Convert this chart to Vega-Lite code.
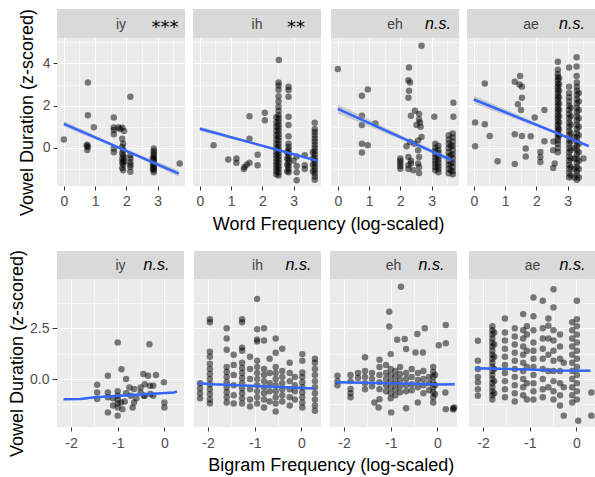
{
"$schema": "https://vega.github.io/schema/vega-lite/v6.json",
"padding": {"left": 8, "top": 8, "right": 0, "bottom": 0},
"background": "white",
"config": {
  "font": "Liberation Sans",
  "view": {"fill": "#EBEBEB", "stroke": null},
  "axis": {"labelFont": "Liberation Sans", "labelFontSize": 14, "labelColor": "#4d4d4d", "tickColor": "#333333", "tickSize": 4, "domain": false, "gridColor": "white", "labelOverlap": false, "labelFlush": false, "titleFont": "Liberation Sans", "titleFontSize": 18, "titleFontWeight": "normal", "titleColor": "black", "labelPadding": 3},
  "title": {"font": "Liberation Sans", "fontSize": 18, "fontWeight": "normal", "color": "black"}
},
"datasets": {
  "strips": [
    {"r": "word", "v": "iy", "sig": "***"}, {"r": "word", "v": "ih", "sig": "**"}, {"r": "word", "v": "eh", "sig": "n.s."}, {"r": "word", "v": "ae", "sig": "n.s."},
    {"r": "bigram", "v": "iy", "sig": "n.s."}, {"r": "bigram", "v": "ih", "sig": "n.s."}, {"r": "bigram", "v": "eh", "sig": "n.s."}, {"r": "bigram", "v": "ae", "sig": "n.s."}
  ],
  "wordfit": [
    {"v":"iy","x":0,"y":1.14,"lo":1.0,"hi":1.28},{"v":"iy","x":1.85,"y":-0.04,"lo":-0.1,"hi":0.02},{"v":"iy","x":3.68,"y":-1.21,"lo":-1.36,"hi":-1.06},
    {"v":"ih","x":0,"y":0.91,"lo":0.8,"hi":1.02},{"v":"ih","x":2.5,"y":-0.1,"lo":-0.13,"hi":-0.07},{"v":"ih","x":3.78,"y":-0.61,"lo":-0.67,"hi":-0.55},
    {"v":"eh","x":0,"y":1.85,"lo":1.63,"hi":2.07},{"v":"eh","x":2.3,"y":0.31,"lo":0.22,"hi":0.4},{"v":"eh","x":3.64,"y":-0.58,"lo":-0.7,"hi":-0.46},
    {"v":"ae","x":0,"y":2.29,"lo":2.1,"hi":2.48},{"v":"ae","x":2.7,"y":0.68,"lo":0.62,"hi":0.74},{"v":"ae","x":3.68,"y":0.09,"lo":0.02,"hi":0.16}
  ],
  "bigramfit": [
    {"v":"iy","x":-2.16,"y":-0.99,"lo":-1.04,"hi":-0.94},{"v":"iy","x":-1.8,"y":-0.98,"lo":-1.02,"hi":-0.94},{"v":"iy","x":-1.49,"y":-0.9,"lo":-0.94,"hi":-0.86},{"v":"iy","x":0.2,"y":-0.66,"lo":-0.71,"hi":-0.61},{"v":"iy","x":0.27,"y":-0.61,"lo":-0.66,"hi":-0.56},
    {"v":"ih","x":-2.21,"y":-0.2,"lo":-0.25,"hi":-0.15},{"v":"ih","x":-1.9,"y":-0.25,"lo":-0.29,"hi":-0.21},{"v":"ih","x":0.27,"y":-0.46,"lo":-0.51,"hi":-0.41},
    {"v":"eh","x":-2.18,"y":-0.16,"lo":-0.21,"hi":-0.11},{"v":"eh","x":-1.0,"y":-0.2,"lo":-0.23,"hi":-0.17},{"v":"eh","x":0.1,"y":-0.27,"lo":-0.31,"hi":-0.23},{"v":"eh","x":0.37,"y":-0.25,"lo":-0.3,"hi":-0.2},
    {"v":"ae","x":-2.16,"y":0.53,"lo":0.47,"hi":0.59},{"v":"ae","x":-1.0,"y":0.47,"lo":0.43,"hi":0.51},{"v":"ae","x":-0.5,"y":0.42,"lo":0.38,"hi":0.46},{"v":"ae","x":0.3,"y":0.41,"lo":0.35,"hi":0.47}
  ],
  "word": [
    {"v":"iy","x":0,"y":0.4},{"v":"iy","x":0.77,"y":3.1},{"v":"iy","x":0.77,"y":1.55},{"v":"iy","x":0.75,"y":0.15},{"v":"iy","x":0.77,"y":0.05},{"v":"iy","x":0.75,"y":-0.1},{"v":"iy","x":0.73,"y":0.1},{"v":"iy","x":0.96,"y":0.98},{"v":"iy","x":2.13,"y":2.42},
    {"v":"iy","x":1.6,"y":1.44},{"v":"iy","x":1.6,"y":0.97},{"v":"iy","x":1.6,"y":0.85},{"v":"iy","x":1.6,"y":0.65},{"v":"iy","x":1.6,"y":-0.03},{"v":"iy","x":1.6,"y":-0.2},
    {"v":"iy","x":1.75,"y":0.97},{"v":"iy","x":1.87,"y":0.95},{"v":"iy","x":1.93,"y":0.8},{"v":"iy","x":1.8,"y":0.9},
    {"v":"iy","x":1.87,"y":0.44},{"v":"iy","x":1.9,"y":0.2},{"v":"iy","x":1.87,"y":0.05},{"v":"iy","x":1.9,"y":-0.1},{"v":"iy","x":1.87,"y":-0.25},{"v":"iy","x":1.9,"y":-0.35},{"v":"iy","x":1.87,"y":-0.5},{"v":"iy","x":1.9,"y":-0.6},{"v":"iy","x":1.87,"y":-0.7},{"v":"iy","x":1.9,"y":-0.8},{"v":"iy","x":1.87,"y":-0.95},{"v":"iy","x":1.9,"y":-1.05},{"v":"iy","x":1.93,"y":-0.45},{"v":"iy","x":1.93,"y":-0.65},
    {"v":"iy","x":2.13,"y":-0.35},{"v":"iy","x":2.13,"y":-0.5},{"v":"iy","x":2.13,"y":-0.66},{"v":"iy","x":2.13,"y":-0.8},{"v":"iy","x":2.13,"y":-0.9},{"v":"iy","x":2.13,"y":-1.13},
    {"v":"iy","x":2.88,"y":-0.03},{"v":"iy","x":2.88,"y":-0.15},{"v":"iy","x":2.88,"y":-0.25},{"v":"iy","x":2.88,"y":-0.35},{"v":"iy","x":2.88,"y":-0.45},{"v":"iy","x":2.88,"y":-0.55},{"v":"iy","x":2.88,"y":-0.62},{"v":"iy","x":2.88,"y":-0.7},{"v":"iy","x":2.88,"y":-0.8},{"v":"iy","x":2.88,"y":-0.88},{"v":"iy","x":2.88,"y":-0.95},{"v":"iy","x":2.88,"y":-1.05},{"v":"iy","x":2.88,"y":-1.15},{"v":"iy","x":2.85,"y":-0.5},{"v":"iy","x":2.85,"y":-0.75},{"v":"iy","x":2.85,"y":-1.0},
    {"v":"iy","x":3.71,"y":-0.74},

    {"v":"ih","x":0.44,"y":0.13},{"v":"ih","x":0.91,"y":-0.55},{"v":"ih","x":1.17,"y":-0.5},{"v":"ih","x":1.17,"y":-0.7},{"v":"ih","x":1.41,"y":-1.0},{"v":"ih","x":1.43,"y":-0.9},{"v":"ih","x":1.5,"y":-0.8},{"v":"ih","x":1.59,"y":-0.7},{"v":"ih","x":1.59,"y":1.5},{"v":"ih","x":1.59,"y":0.44},{"v":"ih","x":1.85,"y":-0.32},{"v":"ih","x":1.85,"y":-0.82},{"v":"ih","x":2.08,"y":1.66},{"v":"ih","x":2.08,"y":1.31},{"v":"ih","x":2.53,"y":4.16},
    {"v":"ih","x":2.52,"y":3.1},{"v":"ih","x":2.52,"y":2.95},{"v":"ih","x":2.52,"y":2.75},{"v":"ih","x":2.52,"y":2.45},{"v":"ih","x":2.52,"y":2.2},{"v":"ih","x":2.52,"y":1.95},{"v":"ih","x":2.52,"y":1.75},{"v":"ih","x":2.52,"y":1.55},{"v":"ih","x":2.52,"y":1.4},{"v":"ih","x":2.52,"y":1.25},{"v":"ih","x":2.52,"y":1.1},{"v":"ih","x":2.52,"y":0.95},{"v":"ih","x":2.52,"y":0.8},{"v":"ih","x":2.52,"y":0.65},{"v":"ih","x":2.52,"y":0.5},{"v":"ih","x":2.52,"y":0.35},{"v":"ih","x":2.52,"y":0.2},{"v":"ih","x":2.52,"y":0.05},{"v":"ih","x":2.52,"y":-0.1},{"v":"ih","x":2.52,"y":-0.25},{"v":"ih","x":2.52,"y":-0.4},{"v":"ih","x":2.52,"y":-0.55},{"v":"ih","x":2.52,"y":-0.7},{"v":"ih","x":2.52,"y":-0.85},{"v":"ih","x":2.52,"y":-1.0},{"v":"ih","x":2.52,"y":-1.15},{"v":"ih","x":2.52,"y":-1.3},
    {"v":"ih","x":2.45,"y":1.45},{"v":"ih","x":2.45,"y":1.2},{"v":"ih","x":2.45,"y":1.0},{"v":"ih","x":2.45,"y":0.8},{"v":"ih","x":2.45,"y":0.6},{"v":"ih","x":2.45,"y":0.4},{"v":"ih","x":2.45,"y":0.2},{"v":"ih","x":2.45,"y":0.0},{"v":"ih","x":2.45,"y":-0.2},{"v":"ih","x":2.45,"y":-0.35},{"v":"ih","x":2.45,"y":-0.5},{"v":"ih","x":2.45,"y":-0.65},{"v":"ih","x":2.45,"y":-0.8},{"v":"ih","x":2.45,"y":-0.95},{"v":"ih","x":2.45,"y":-1.1},{"v":"ih","x":2.45,"y":-1.25},
    {"v":"ih","x":2.84,"y":2.9},{"v":"ih","x":2.84,"y":2.74},{"v":"ih","x":2.84,"y":2.42},{"v":"ih","x":2.84,"y":1.47},{"v":"ih","x":2.84,"y":1.08},{"v":"ih","x":2.84,"y":0.55},{"v":"ih","x":2.84,"y":0.2},{"v":"ih","x":2.84,"y":0.05},{"v":"ih","x":2.84,"y":-0.1},{"v":"ih","x":2.84,"y":-0.25},{"v":"ih","x":2.84,"y":-0.4},{"v":"ih","x":2.84,"y":-0.55},{"v":"ih","x":2.84,"y":-0.7},{"v":"ih","x":2.84,"y":-0.85},{"v":"ih","x":2.84,"y":-1.0},{"v":"ih","x":2.84,"y":-1.15},
    {"v":"ih","x":2.8,"y":-0.2},{"v":"ih","x":2.8,"y":-0.5},{"v":"ih","x":2.8,"y":-0.8},{"v":"ih","x":2.8,"y":-1.1},
    {"v":"ih","x":3.1,"y":-0.4},{"v":"ih","x":3.1,"y":-0.85},{"v":"ih","x":3.1,"y":-1.15},{"v":"ih","x":3.1,"y":-1.53},{"v":"ih","x":3.0,"y":-0.6},
    {"v":"ih","x":3.36,"y":-0.35},{"v":"ih","x":3.36,"y":-0.82},{"v":"ih","x":3.36,"y":-1.0},
    {"v":"ih","x":3.68,"y":1.19},{"v":"ih","x":3.68,"y":0.9},{"v":"ih","x":3.68,"y":0.75},{"v":"ih","x":3.68,"y":0.6},{"v":"ih","x":3.68,"y":0.45},{"v":"ih","x":3.68,"y":0.3},{"v":"ih","x":3.68,"y":0.15},{"v":"ih","x":3.68,"y":0.0},{"v":"ih","x":3.68,"y":-0.15},{"v":"ih","x":3.68,"y":-0.3},{"v":"ih","x":3.68,"y":-0.45},{"v":"ih","x":3.68,"y":-0.6},{"v":"ih","x":3.68,"y":-0.75},{"v":"ih","x":3.68,"y":-0.9},{"v":"ih","x":3.68,"y":-1.05},{"v":"ih","x":3.68,"y":-1.2},{"v":"ih","x":3.68,"y":-1.35},{"v":"ih","x":3.68,"y":-1.5},
    {"v":"ih","x":3.62,"y":-0.2},{"v":"ih","x":3.62,"y":-0.5},{"v":"ih","x":3.62,"y":-0.8},{"v":"ih","x":3.62,"y":-1.1},

    {"v":"eh","x":2.68,"y":4.83},{"v":"eh","x":0,"y":3.73},{"v":"eh","x":0.77,"y":2.47},{"v":"eh","x":0.96,"y":2.77},{"v":"eh","x":0.77,"y":1.52},{"v":"eh","x":0.77,"y":1.08},{"v":"eh","x":1.2,"y":1.16},{"v":"eh","x":0.77,"y":0.2},{"v":"eh","x":0.96,"y":0.13},{"v":"eh","x":0.77,"y":-0.22},
    {"v":"eh","x":2.28,"y":3.8},{"v":"eh","x":2.26,"y":3.2},{"v":"eh","x":2.31,"y":3.1},{"v":"eh","x":2.28,"y":2.7},{"v":"eh","x":2.26,"y":2.37},
    {"v":"eh","x":2.47,"y":1.76},{"v":"eh","x":2.34,"y":1.52},{"v":"eh","x":2.6,"y":1.6},{"v":"eh","x":2.63,"y":1.2},{"v":"eh","x":2.65,"y":1.0},{"v":"eh","x":2.52,"y":1.08},{"v":"eh","x":2.68,"y":0.52},{"v":"eh","x":2.6,"y":1.35},
    {"v":"eh","x":2.2,"y":0.08},{"v":"eh","x":2.31,"y":0.28},{"v":"eh","x":2.45,"y":0.2},
    {"v":"eh","x":2.0,"y":-0.5},{"v":"eh","x":2.0,"y":-0.74},{"v":"eh","x":2.0,"y":-0.98},{"v":"eh","x":2.0,"y":-0.62},{"v":"eh","x":2.0,"y":-0.86},
    {"v":"eh","x":2.26,"y":-0.43},{"v":"eh","x":2.34,"y":-0.74},{"v":"eh","x":2.26,"y":-0.82},{"v":"eh","x":2.42,"y":-1.06},{"v":"eh","x":2.34,"y":-0.6},{"v":"eh","x":2.26,"y":-1.0},
    {"v":"eh","x":2.57,"y":-0.11},{"v":"eh","x":2.6,"y":-0.43},{"v":"eh","x":2.57,"y":-0.74},{"v":"eh","x":2.6,"y":-1.19},{"v":"eh","x":2.6,"y":-0.9},{"v":"eh","x":2.57,"y":0.35},
    {"v":"eh","x":3.09,"y":1.47},{"v":"eh","x":3.7,"y":2.14},{"v":"eh","x":3.7,"y":1.47},
    {"v":"eh","x":3.12,"y":0.2},{"v":"eh","x":3.12,"y":0.0},{"v":"eh","x":3.12,"y":-0.15},{"v":"eh","x":3.12,"y":-0.3},{"v":"eh","x":3.12,"y":-0.45},{"v":"eh","x":3.12,"y":-0.6},{"v":"eh","x":3.12,"y":-0.75},{"v":"eh","x":3.12,"y":-0.9},{"v":"eh","x":3.12,"y":-1.05},
    {"v":"eh","x":3.22,"y":0.1},{"v":"eh","x":3.22,"y":-0.1},{"v":"eh","x":3.22,"y":-0.25},{"v":"eh","x":3.22,"y":-0.4},{"v":"eh","x":3.22,"y":-0.55},{"v":"eh","x":3.22,"y":-0.7},{"v":"eh","x":3.22,"y":-0.85},{"v":"eh","x":3.22,"y":-1.0},{"v":"eh","x":3.22,"y":-1.15},
    {"v":"eh","x":3.55,"y":0.6},{"v":"eh","x":3.55,"y":0.4},{"v":"eh","x":3.55,"y":0.2},{"v":"eh","x":3.55,"y":0.0},{"v":"eh","x":3.55,"y":-0.2},{"v":"eh","x":3.55,"y":-0.4},{"v":"eh","x":3.55,"y":-0.6},{"v":"eh","x":3.55,"y":-0.8},{"v":"eh","x":3.55,"y":-1.0},{"v":"eh","x":3.55,"y":-1.2},
    {"v":"eh","x":3.68,"y":0.68},{"v":"eh","x":3.68,"y":0.5},{"v":"eh","x":3.68,"y":0.3},{"v":"eh","x":3.68,"y":0.1},{"v":"eh","x":3.68,"y":-0.1},{"v":"eh","x":3.68,"y":-0.3},{"v":"eh","x":3.68,"y":-0.5},{"v":"eh","x":3.68,"y":-0.7},{"v":"eh","x":3.68,"y":-0.9},{"v":"eh","x":3.68,"y":-1.1},{"v":"eh","x":3.68,"y":-1.25},
    {"v":"eh","x":3.62,"y":0.1},{"v":"eh","x":3.62,"y":-0.35},{"v":"eh","x":3.62,"y":-0.75},{"v":"eh","x":3.62,"y":-1.05},

    {"v":"ae","x":0.35,"y":3.05},{"v":"ae","x":0.04,"y":1.2},{"v":"ae","x":0.35,"y":1.12},{"v":"ae","x":0.51,"y":0.57},{"v":"ae","x":0.04,"y":0.08},{"v":"ae","x":0.76,"y":-0.63},
    {"v":"ae","x":1.31,"y":3.13},{"v":"ae","x":1.48,"y":3.4},{"v":"ae","x":1.46,"y":3.0},{"v":"ae","x":1.54,"y":2.9},{"v":"ae","x":1.54,"y":2.37},{"v":"ae","x":1.41,"y":2.07},{"v":"ae","x":1.51,"y":1.79},
    {"v":"ae","x":2.26,"y":1.79},{"v":"ae","x":1.95,"y":1.44},{"v":"ae","x":1.31,"y":0.65},{"v":"ae","x":1.54,"y":0.57},{"v":"ae","x":1.82,"y":0.55},{"v":"ae","x":1.66,"y":-0.03},{"v":"ae","x":1.66,"y":-0.4},{"v":"ae","x":2.26,"y":0.32},{"v":"ae","x":1.31,"y":-0.76},
    {"v":"ae","x":2.13,"y":-0.19},{"v":"ae","x":2.13,"y":-0.43},{"v":"ae","x":2.13,"y":-0.66},{"v":"ae","x":2.54,"y":-0.11},{"v":"ae","x":2.59,"y":-0.74},{"v":"ae","x":2.54,"y":-0.95},{"v":"ae","x":2.55,"y":0.3},{"v":"ae","x":3.51,"y":-0.5},
    {"v":"ae","x":2.69,"y":4.08},{"v":"ae","x":3.29,"y":4.29},{"v":"ae","x":3.29,"y":3.85},{"v":"ae","x":3.05,"y":3.8},{"v":"ae","x":3.29,"y":3.4},
    {"v":"ae","x":2.69,"y":3.7},{"v":"ae","x":2.69,"y":3.5},{"v":"ae","x":2.69,"y":3.35},{"v":"ae","x":2.69,"y":3.2},{"v":"ae","x":2.69,"y":3.05},{"v":"ae","x":2.69,"y":2.9},{"v":"ae","x":2.69,"y":2.75},{"v":"ae","x":2.69,"y":2.6},{"v":"ae","x":2.69,"y":2.45},{"v":"ae","x":2.69,"y":2.3},{"v":"ae","x":2.69,"y":2.15},{"v":"ae","x":2.69,"y":2.0},{"v":"ae","x":2.69,"y":1.85},{"v":"ae","x":2.69,"y":1.7},{"v":"ae","x":2.69,"y":1.55},{"v":"ae","x":2.69,"y":1.4},{"v":"ae","x":2.69,"y":1.25},{"v":"ae","x":2.69,"y":1.1},{"v":"ae","x":2.69,"y":0.95},{"v":"ae","x":2.69,"y":0.8},{"v":"ae","x":2.69,"y":0.65},{"v":"ae","x":2.69,"y":0.5},{"v":"ae","x":2.69,"y":0.35},{"v":"ae","x":2.69,"y":0.2},{"v":"ae","x":2.69,"y":0.0},{"v":"ae","x":2.69,"y":-0.2},
    {"v":"ae","x":2.73,"y":3.3},{"v":"ae","x":2.73,"y":3.0},{"v":"ae","x":2.73,"y":2.7},{"v":"ae","x":2.73,"y":2.4},{"v":"ae","x":2.73,"y":2.1},{"v":"ae","x":2.73,"y":1.8},{"v":"ae","x":2.73,"y":1.5},{"v":"ae","x":2.73,"y":1.2},{"v":"ae","x":2.73,"y":0.9},{"v":"ae","x":2.73,"y":0.6},
    {"v":"ae","x":3.05,"y":2.9},{"v":"ae","x":3.05,"y":2.6},{"v":"ae","x":3.05,"y":2.4},{"v":"ae","x":3.05,"y":2.2},{"v":"ae","x":3.05,"y":2.0},{"v":"ae","x":3.05,"y":1.8},{"v":"ae","x":3.05,"y":1.6},{"v":"ae","x":3.05,"y":1.4},{"v":"ae","x":3.05,"y":1.2},{"v":"ae","x":3.05,"y":1.0},{"v":"ae","x":3.05,"y":0.8},{"v":"ae","x":3.05,"y":0.6},{"v":"ae","x":3.05,"y":0.4},{"v":"ae","x":3.05,"y":0.2},{"v":"ae","x":3.05,"y":0.0},{"v":"ae","x":3.05,"y":-0.2},{"v":"ae","x":3.05,"y":-0.4},{"v":"ae","x":3.05,"y":-0.6},{"v":"ae","x":3.05,"y":-0.8},{"v":"ae","x":3.05,"y":-1.0},{"v":"ae","x":3.05,"y":-1.2},{"v":"ae","x":3.05,"y":-1.4},
    {"v":"ae","x":3.1,"y":1.9},{"v":"ae","x":3.1,"y":1.5},{"v":"ae","x":3.1,"y":1.1},{"v":"ae","x":3.1,"y":0.7},{"v":"ae","x":3.1,"y":0.3},{"v":"ae","x":3.1,"y":-0.1},{"v":"ae","x":3.1,"y":-0.5},{"v":"ae","x":3.1,"y":-0.9},{"v":"ae","x":3.1,"y":-1.3},
    {"v":"ae","x":3.3,"y":3.1},{"v":"ae","x":3.3,"y":2.9},{"v":"ae","x":3.3,"y":2.7},{"v":"ae","x":3.3,"y":2.5},{"v":"ae","x":3.3,"y":2.3},{"v":"ae","x":3.3,"y":2.1},{"v":"ae","x":3.3,"y":1.9},{"v":"ae","x":3.3,"y":1.7},{"v":"ae","x":3.3,"y":1.5},{"v":"ae","x":3.3,"y":1.3},{"v":"ae","x":3.3,"y":1.1},{"v":"ae","x":3.3,"y":0.9},{"v":"ae","x":3.3,"y":0.7},{"v":"ae","x":3.3,"y":0.5},{"v":"ae","x":3.3,"y":0.3},{"v":"ae","x":3.3,"y":0.1},{"v":"ae","x":3.3,"y":-0.1},{"v":"ae","x":3.3,"y":-0.3},{"v":"ae","x":3.3,"y":-0.5},{"v":"ae","x":3.3,"y":-0.7},{"v":"ae","x":3.3,"y":-0.9},{"v":"ae","x":3.3,"y":-1.1},{"v":"ae","x":3.3,"y":-1.3},{"v":"ae","x":3.3,"y":-1.5},
    {"v":"ae","x":3.36,"y":2.6},{"v":"ae","x":3.36,"y":2.2},{"v":"ae","x":3.36,"y":1.8},{"v":"ae","x":3.36,"y":1.4},{"v":"ae","x":3.36,"y":1.0},{"v":"ae","x":3.36,"y":0.6},{"v":"ae","x":3.36,"y":0.2},{"v":"ae","x":3.36,"y":-0.2},{"v":"ae","x":3.36,"y":-0.6},{"v":"ae","x":3.36,"y":-1.0},{"v":"ae","x":3.36,"y":-1.4},
    {"v":"ae","x":3.22,"y":0.5},{"v":"ae","x":3.22,"y":0.0},{"v":"ae","x":3.22,"y":-0.5},{"v":"ae","x":3.22,"y":-1.0},{"v":"ae","x":3.22,"y":-1.4}
  ],
  "bigram": [
    {"v":"iy","x":-1.0,"y":1.8},{"v":"iy","x":-0.32,"y":1.72},{"v":"iy","x":-1.44,"y":-0.28},{"v":"iy","x":-1.44,"y":-0.66},{"v":"iy","x":-1.44,"y":-0.98},{"v":"iy","x":-1.21,"y":0.16},{"v":"iy","x":-1.21,"y":-0.66},{"v":"iy","x":-1.21,"y":-1.64},{"v":"iy","x":-1.21,"y":-0.9},
    {"v":"iy","x":-1.0,"y":-0.82},{"v":"iy","x":-1.0,"y":-1.0},{"v":"iy","x":-1.0,"y":-1.2},{"v":"iy","x":-1.0,"y":-1.4},{"v":"iy","x":-1.0,"y":-1.8},{"v":"iy","x":-1.0,"y":-0.6},
    {"v":"iy","x":-0.93,"y":-1.15},{"v":"iy","x":-0.9,"y":-1.48},{"v":"iy","x":-0.92,"y":0.49},{"v":"iy","x":-0.82,"y":0.0},{"v":"iy","x":-0.82,"y":-0.7},
    {"v":"iy","x":-0.75,"y":-0.41},{"v":"iy","x":-0.72,"y":-0.82},{"v":"iy","x":-0.65,"y":-1.15},{"v":"iy","x":-0.68,"y":-1.4},{"v":"iy","x":-0.65,"y":-0.49},
    {"v":"iy","x":-0.51,"y":-0.41},{"v":"iy","x":-0.51,"y":-0.66},{"v":"iy","x":-0.45,"y":0.25},{"v":"iy","x":-0.42,"y":-0.25},{"v":"iy","x":-0.44,"y":-0.82},
    {"v":"iy","x":-0.35,"y":0.16},{"v":"iy","x":-0.31,"y":-0.33},{"v":"iy","x":-0.3,"y":-0.74},{"v":"iy","x":-0.24,"y":-0.82},{"v":"iy","x":-0.24,"y":-0.33},{"v":"iy","x":-0.18,"y":0.2},
    {"v":"iy","x":-0.01,"y":-0.16},{"v":"iy","x":0.0,"y":-1.15},{"v":"iy","x":0.0,"y":-1.4},{"v":"iy","x":-0.42,"y":-0.82},{"v":"iy","x":-0.6,"y":-0.95},{"v":"iy","x":-1.1,"y":-1.3},{"v":"iy","x":-1.1,"y":-0.95},{"v":"iy","x":-0.85,"y":-1.1},

    {"v":"ih","x":-2.17,"y":-0.2},{"v":"ih","x":-2.17,"y":-0.45},{"v":"ih","x":-2.17,"y":-0.7},{"v":"ih","x":-2.17,"y":-0.95},
    {"v":"ih","x":-1.96,"y":2.95},{"v":"ih","x":-1.96,"y":2.8},{"v":"ih","x":-1.96,"y":1.35},{"v":"ih","x":-1.96,"y":1.1},{"v":"ih","x":-1.96,"y":0.75},{"v":"ih","x":-1.96,"y":0.5},{"v":"ih","x":-1.96,"y":0.25},{"v":"ih","x":-1.96,"y":0.0},{"v":"ih","x":-1.96,"y":-0.25},{"v":"ih","x":-1.96,"y":-0.5},{"v":"ih","x":-1.96,"y":-0.75},{"v":"ih","x":-1.96,"y":-1.0},{"v":"ih","x":-1.96,"y":-1.2},
    {"v":"ih","x":-1.6,"y":2.5},{"v":"ih","x":-1.6,"y":2.0},{"v":"ih","x":-1.6,"y":1.45},{"v":"ih","x":-1.6,"y":0.6},{"v":"ih","x":-1.6,"y":0.35},{"v":"ih","x":-1.6,"y":0.1},{"v":"ih","x":-1.6,"y":-0.15},{"v":"ih","x":-1.6,"y":-0.4},{"v":"ih","x":-1.6,"y":-0.65},{"v":"ih","x":-1.6,"y":-0.9},{"v":"ih","x":-1.6,"y":-1.15},
    {"v":"ih","x":-1.45,"y":1.2},{"v":"ih","x":-1.45,"y":0.7},{"v":"ih","x":-1.45,"y":0.2},{"v":"ih","x":-1.45,"y":-0.3},{"v":"ih","x":-1.45,"y":-0.8},{"v":"ih","x":-1.45,"y":-1.2},
    {"v":"ih","x":-1.27,"y":2.95},{"v":"ih","x":-1.27,"y":2.8},{"v":"ih","x":-1.27,"y":1.55},{"v":"ih","x":-1.27,"y":1.4},{"v":"ih","x":-1.27,"y":0.8},{"v":"ih","x":-1.27,"y":0.55},{"v":"ih","x":-1.27,"y":0.3},{"v":"ih","x":-1.27,"y":0.05},{"v":"ih","x":-1.27,"y":-0.2},{"v":"ih","x":-1.27,"y":-0.45},{"v":"ih","x":-1.27,"y":-0.7},{"v":"ih","x":-1.27,"y":-0.95},{"v":"ih","x":-1.27,"y":-1.2},
    {"v":"ih","x":-1.1,"y":1.1},{"v":"ih","x":-1.1,"y":0.5},{"v":"ih","x":-1.1,"y":0.0},{"v":"ih","x":-1.1,"y":-0.5},{"v":"ih","x":-1.1,"y":-1.0},{"v":"ih","x":-1.1,"y":-1.35},
    {"v":"ih","x":-0.95,"y":3.94},{"v":"ih","x":-0.95,"y":2.45},{"v":"ih","x":-0.95,"y":1.95},{"v":"ih","x":-0.95,"y":1.85},{"v":"ih","x":-0.95,"y":0.9},{"v":"ih","x":-0.95,"y":0.6},{"v":"ih","x":-0.95,"y":0.3},{"v":"ih","x":-0.95,"y":0.0},{"v":"ih","x":-0.95,"y":-0.3},{"v":"ih","x":-0.95,"y":-0.6},{"v":"ih","x":-0.95,"y":-0.9},{"v":"ih","x":-0.95,"y":-1.2},
    {"v":"ih","x":-0.8,"y":2.5},{"v":"ih","x":-0.8,"y":1.9},{"v":"ih","x":-0.8,"y":0.5},{"v":"ih","x":-0.8,"y":0.2},{"v":"ih","x":-0.8,"y":-0.1},{"v":"ih","x":-0.8,"y":-0.4},{"v":"ih","x":-0.8,"y":-0.7},{"v":"ih","x":-0.8,"y":-1.0},{"v":"ih","x":-0.8,"y":-1.4},
    {"v":"ih","x":-0.68,"y":1.0},{"v":"ih","x":-0.68,"y":0.3},{"v":"ih","x":-0.68,"y":-0.2},{"v":"ih","x":-0.68,"y":-0.6},{"v":"ih","x":-0.68,"y":-1.1},
    {"v":"ih","x":-0.55,"y":2.0},{"v":"ih","x":-0.55,"y":1.3},{"v":"ih","x":-0.55,"y":0.6},{"v":"ih","x":-0.55,"y":0.3},{"v":"ih","x":-0.55,"y":0.0},{"v":"ih","x":-0.55,"y":-0.3},{"v":"ih","x":-0.55,"y":-0.6},{"v":"ih","x":-0.55,"y":-0.9},{"v":"ih","x":-0.55,"y":-1.2},{"v":"ih","x":-0.55,"y":-1.6},
    {"v":"ih","x":-0.41,"y":1.5},{"v":"ih","x":-0.41,"y":0.4},{"v":"ih","x":-0.41,"y":0.1},{"v":"ih","x":-0.41,"y":-0.2},{"v":"ih","x":-0.41,"y":-0.5},{"v":"ih","x":-0.41,"y":-0.8},{"v":"ih","x":-0.41,"y":-1.1},
    {"v":"ih","x":-0.25,"y":0.8},{"v":"ih","x":-0.25,"y":0.3},{"v":"ih","x":-0.25,"y":-0.1},{"v":"ih","x":-0.25,"y":-0.5},{"v":"ih","x":-0.25,"y":-0.9},{"v":"ih","x":-0.25,"y":-1.3},
    {"v":"ih","x":-0.14,"y":0.1},{"v":"ih","x":-0.14,"y":-0.3},{"v":"ih","x":-0.14,"y":-0.6},{"v":"ih","x":-0.14,"y":-1.0},
    {"v":"ih","x":0.02,"y":1.23},{"v":"ih","x":0.02,"y":0.9},{"v":"ih","x":0.02,"y":0.33},{"v":"ih","x":0.02,"y":0.1},{"v":"ih","x":0.02,"y":-0.15},{"v":"ih","x":0.02,"y":-0.4},{"v":"ih","x":0.02,"y":-0.65},{"v":"ih","x":0.02,"y":-0.9},{"v":"ih","x":0.02,"y":-1.15},{"v":"ih","x":0.02,"y":-1.4},
    {"v":"ih","x":0.29,"y":1.0},{"v":"ih","x":0.29,"y":0.8},{"v":"ih","x":0.29,"y":0.5},{"v":"ih","x":0.29,"y":0.2},{"v":"ih","x":0.29,"y":-0.1},{"v":"ih","x":0.29,"y":-0.4},{"v":"ih","x":0.29,"y":-0.7},{"v":"ih","x":0.29,"y":-1.0},{"v":"ih","x":0.29,"y":-1.3},{"v":"ih","x":0.29,"y":-1.56},

    {"v":"eh","x":-0.78,"y":4.55},{"v":"eh","x":-1.03,"y":3.32},{"v":"eh","x":-1.03,"y":2.59},{"v":"eh","x":-0.86,"y":1.94},{"v":"eh","x":-0.7,"y":1.97},{"v":"eh","x":-0.27,"y":2.5},{"v":"eh","x":-0.43,"y":2.22},{"v":"eh","x":0.18,"y":2.66},{"v":"eh","x":0.03,"y":1.67},{"v":"eh","x":0.18,"y":1.76},
    {"v":"eh","x":-0.47,"y":1.31},{"v":"eh","x":-0.31,"y":1.31},{"v":"eh","x":-0.67,"y":1.48},{"v":"eh","x":-1.55,"y":1.07},{"v":"eh","x":-1.24,"y":0.95},{"v":"eh","x":-1.0,"y":1.23},
    {"v":"eh","x":-2.14,"y":0.16},{"v":"eh","x":-2.14,"y":-0.1},{"v":"eh","x":-2.14,"y":-0.3},
    {"v":"eh","x":-1.86,"y":0.2},{"v":"eh","x":-1.86,"y":-0.1},{"v":"eh","x":-1.86,"y":-0.49},{"v":"eh","x":-1.86,"y":-0.7},{"v":"eh","x":-1.86,"y":-0.9},
    {"v":"eh","x":-1.7,"y":0.3},{"v":"eh","x":-1.7,"y":0.05},
    {"v":"eh","x":-1.55,"y":0.4},{"v":"eh","x":-1.55,"y":0.1},{"v":"eh","x":-1.55,"y":-0.2},{"v":"eh","x":-1.55,"y":-0.5},
    {"v":"eh","x":-1.4,"y":0.3},{"v":"eh","x":-1.4,"y":0.0},{"v":"eh","x":-1.4,"y":-0.35},
    {"v":"eh","x":-1.24,"y":0.6},{"v":"eh","x":-1.24,"y":0.2},{"v":"eh","x":-1.24,"y":-0.15},{"v":"eh","x":-1.24,"y":-0.99},{"v":"eh","x":-1.24,"y":-0.5},{"v":"eh","x":-1.35,"y":-1.15},{"v":"eh","x":-1.26,"y":-1.4},
    {"v":"eh","x":-1.1,"y":0.7},{"v":"eh","x":-1.1,"y":0.3},{"v":"eh","x":-1.1,"y":0.0},{"v":"eh","x":-1.1,"y":-0.3},{"v":"eh","x":-1.1,"y":-0.6},
    {"v":"eh","x":-1.0,"y":0.5},{"v":"eh","x":-1.0,"y":0.2},{"v":"eh","x":-1.0,"y":-0.1},{"v":"eh","x":-1.0,"y":-0.4},{"v":"eh","x":-1.0,"y":-0.7},{"v":"eh","x":-1.0,"y":-0.95},{"v":"eh","x":-0.99,"y":-1.64},
    {"v":"eh","x":-0.9,"y":0.4},{"v":"eh","x":-0.9,"y":0.1},{"v":"eh","x":-0.9,"y":-0.2},{"v":"eh","x":-0.9,"y":-0.5},{"v":"eh","x":-0.9,"y":-0.8},
    {"v":"eh","x":-0.8,"y":0.6},{"v":"eh","x":-0.8,"y":0.25},{"v":"eh","x":-0.8,"y":-0.05},{"v":"eh","x":-0.8,"y":-0.35},{"v":"eh","x":-0.8,"y":-0.65},
    {"v":"eh","x":-0.67,"y":0.3},{"v":"eh","x":-0.67,"y":0.0},{"v":"eh","x":-0.67,"y":-0.3},{"v":"eh","x":-0.67,"y":-0.6},{"v":"eh","x":-0.67,"y":-1.44},
    {"v":"eh","x":-0.55,"y":0.5},{"v":"eh","x":-0.55,"y":0.1},{"v":"eh","x":-0.55,"y":-0.25},{"v":"eh","x":-0.55,"y":-0.55},
    {"v":"eh","x":-0.42,"y":0.3},{"v":"eh","x":-0.42,"y":-0.05},{"v":"eh","x":-0.42,"y":-0.4},{"v":"eh","x":-0.42,"y":-1.15},
    {"v":"eh","x":-0.3,"y":0.4},{"v":"eh","x":-0.3,"y":0.0},{"v":"eh","x":-0.3,"y":-0.3},{"v":"eh","x":-0.3,"y":-0.7},
    {"v":"eh","x":-0.18,"y":0.1},{"v":"eh","x":-0.18,"y":-0.2},{"v":"eh","x":-0.18,"y":-0.55},
    {"v":"eh","x":-0.09,"y":0.6},{"v":"eh","x":-0.09,"y":0.35},{"v":"eh","x":-0.09,"y":0.1},{"v":"eh","x":-0.09,"y":-0.15},{"v":"eh","x":-0.09,"y":-0.4},{"v":"eh","x":-0.09,"y":-0.65},{"v":"eh","x":-0.09,"y":-0.9},{"v":"eh","x":-0.09,"y":-1.15},
    {"v":"eh","x":-0.05,"y":0.2},{"v":"eh","x":-0.05,"y":-0.3},{"v":"eh","x":-0.05,"y":-0.75},
    {"v":"eh","x":0.17,"y":-0.66},{"v":"eh","x":0.18,"y":-1.48},{"v":"eh","x":0.34,"y":-1.44},{"v":"eh","x":0.34,"y":-1.5},{"v":"eh","x":0.36,"y":-1.4},

    {"v":"ae","x":-2.11,"y":1.89},{"v":"ae","x":-2.11,"y":0.9},{"v":"ae","x":-2.11,"y":0.5},{"v":"ae","x":-2.11,"y":0.1},{"v":"ae","x":-2.11,"y":-0.16},{"v":"ae","x":-2.11,"y":-0.5},{"v":"ae","x":-2.11,"y":-0.82},
    {"v":"ae","x":-1.8,"y":2.6},{"v":"ae","x":-1.8,"y":2.4},{"v":"ae","x":-1.8,"y":2.2},{"v":"ae","x":-1.8,"y":2.0},{"v":"ae","x":-1.8,"y":1.8},{"v":"ae","x":-1.8,"y":1.6},{"v":"ae","x":-1.8,"y":1.4},{"v":"ae","x":-1.8,"y":1.2},{"v":"ae","x":-1.8,"y":1.0},{"v":"ae","x":-1.8,"y":0.8},{"v":"ae","x":-1.8,"y":0.6},{"v":"ae","x":-1.8,"y":0.4},{"v":"ae","x":-1.8,"y":0.2},{"v":"ae","x":-1.8,"y":0.0},{"v":"ae","x":-1.8,"y":-0.2},{"v":"ae","x":-1.8,"y":-0.4},{"v":"ae","x":-1.8,"y":-0.6},{"v":"ae","x":-1.8,"y":-0.8},{"v":"ae","x":-1.8,"y":-1.0},
    {"v":"ae","x":-1.76,"y":2.3},{"v":"ae","x":-1.76,"y":1.7},{"v":"ae","x":-1.76,"y":1.1},{"v":"ae","x":-1.76,"y":0.5},{"v":"ae","x":-1.76,"y":-0.1},{"v":"ae","x":-1.76,"y":-0.7},
    {"v":"ae","x":-1.53,"y":2.99},{"v":"ae","x":-1.53,"y":2.3},{"v":"ae","x":-1.53,"y":1.9},{"v":"ae","x":-1.53,"y":1.5},{"v":"ae","x":-1.53,"y":1.1},{"v":"ae","x":-1.53,"y":0.7},{"v":"ae","x":-1.53,"y":0.3},{"v":"ae","x":-1.53,"y":-0.1},{"v":"ae","x":-1.53,"y":-0.5},{"v":"ae","x":-1.53,"y":-0.9},
    {"v":"ae","x":-1.32,"y":2.5},{"v":"ae","x":-1.32,"y":2.1},{"v":"ae","x":-1.32,"y":1.7},{"v":"ae","x":-1.32,"y":1.3},{"v":"ae","x":-1.32,"y":0.9},{"v":"ae","x":-1.32,"y":0.5},{"v":"ae","x":-1.32,"y":0.1},{"v":"ae","x":-1.32,"y":-0.3},{"v":"ae","x":-1.32,"y":-0.7},{"v":"ae","x":-1.32,"y":-1.1},
    {"v":"ae","x":-1.14,"y":3.2},{"v":"ae","x":-1.14,"y":2.4},{"v":"ae","x":-1.14,"y":2.0},{"v":"ae","x":-1.14,"y":1.6},{"v":"ae","x":-1.14,"y":1.2},{"v":"ae","x":-1.14,"y":0.8},{"v":"ae","x":-1.14,"y":0.4},{"v":"ae","x":-1.14,"y":0.0},{"v":"ae","x":-1.14,"y":-0.4},{"v":"ae","x":-1.14,"y":-0.8},
    {"v":"ae","x":-1.06,"y":2.6},{"v":"ae","x":-1.06,"y":2.2},{"v":"ae","x":-1.06,"y":1.4},{"v":"ae","x":-1.06,"y":0.6},{"v":"ae","x":-1.06,"y":-0.2},{"v":"ae","x":-1.06,"y":-1.0},
    {"v":"ae","x":-0.92,"y":4.02},{"v":"ae","x":-0.92,"y":3.09},{"v":"ae","x":-0.92,"y":2.4},{"v":"ae","x":-0.92,"y":1.8},{"v":"ae","x":-0.92,"y":1.4},{"v":"ae","x":-0.92,"y":1.0},{"v":"ae","x":-0.92,"y":0.6},{"v":"ae","x":-0.92,"y":0.2},{"v":"ae","x":-0.92,"y":-0.2},{"v":"ae","x":-0.92,"y":-0.6},{"v":"ae","x":-0.92,"y":-1.0},
    {"v":"ae","x":-0.72,"y":3.86},{"v":"ae","x":-0.72,"y":2.5},{"v":"ae","x":-0.72,"y":2.0},{"v":"ae","x":-0.72,"y":1.5},{"v":"ae","x":-0.72,"y":1.0},{"v":"ae","x":-0.72,"y":0.5},{"v":"ae","x":-0.72,"y":0.0},{"v":"ae","x":-0.72,"y":-0.5},{"v":"ae","x":-0.72,"y":-0.9},
    {"v":"ae","x":-0.6,"y":2.99},{"v":"ae","x":-0.6,"y":2.63},{"v":"ae","x":-0.6,"y":2.0},{"v":"ae","x":-0.6,"y":1.2},{"v":"ae","x":-0.6,"y":0.4},{"v":"ae","x":-0.6,"y":-0.4},
    {"v":"ae","x":-0.49,"y":4.43},{"v":"ae","x":-0.49,"y":3.53},{"v":"ae","x":-0.49,"y":2.4},{"v":"ae","x":-0.49,"y":1.9},{"v":"ae","x":-0.49,"y":1.4},{"v":"ae","x":-0.49,"y":0.9},{"v":"ae","x":-0.49,"y":0.4},{"v":"ae","x":-0.49,"y":-0.1},{"v":"ae","x":-0.49,"y":-0.6},{"v":"ae","x":-0.49,"y":-1.0},
    {"v":"ae","x":-0.35,"y":2.2},{"v":"ae","x":-0.35,"y":1.6},{"v":"ae","x":-0.35,"y":1.0},{"v":"ae","x":-0.35,"y":0.4},{"v":"ae","x":-0.35,"y":-0.2},{"v":"ae","x":-0.35,"y":-0.8},{"v":"ae","x":-0.35,"y":-1.3},
    {"v":"ae","x":-0.27,"y":-1.8},{"v":"ae","x":-0.27,"y":0.8},{"v":"ae","x":-0.27,"y":-0.4},
    {"v":"ae","x":-0.09,"y":2.8},{"v":"ae","x":-0.09,"y":2.4},{"v":"ae","x":-0.09,"y":2.0},{"v":"ae","x":-0.09,"y":1.6},{"v":"ae","x":-0.09,"y":1.2},{"v":"ae","x":-0.09,"y":0.8},{"v":"ae","x":-0.09,"y":0.4},{"v":"ae","x":-0.09,"y":0.0},{"v":"ae","x":-0.09,"y":-0.4},{"v":"ae","x":-0.09,"y":-0.8},{"v":"ae","x":-0.09,"y":-1.15},
    {"v":"ae","x":0.01,"y":3.86},{"v":"ae","x":0.01,"y":2.95},{"v":"ae","x":0.01,"y":2.6},{"v":"ae","x":0.01,"y":2.2},{"v":"ae","x":0.01,"y":1.8},{"v":"ae","x":0.01,"y":1.4},{"v":"ae","x":0.01,"y":1.0},{"v":"ae","x":0.01,"y":0.6},{"v":"ae","x":0.01,"y":0.2},{"v":"ae","x":0.01,"y":-0.2},{"v":"ae","x":0.01,"y":-0.6},{"v":"ae","x":0.01,"y":-1.0},{"v":"ae","x":0.04,"y":-2.05},
    {"v":"ae","x":0.32,"y":-0.66},{"v":"ae","x":0.32,"y":-1.8}
  ]
},
"columns": 1,
"align": "none",
"spacing": 15,
"concat": [
  {
    "spacing": 8,
    "title": {"text": "Word Frequency (log-scaled)", "orient": "bottom", "anchor": "middle", "offset": 0, "dx": 22},
    "hconcat": [
      {"spacing": 0, "bounds": "flush", "vconcat": [
        {"width": 128, "height": 29, "view": {"fill": "#D9D9D9", "stroke": null}, "data": {"name": "strips"}, "transform": [{"filter": "datum.r==='word' && datum.v==='iy'"}],
         "layer": [
          {"mark": {"type": "text", "fontSize": 14, "color": "#444444", "dy": 1}, "encoding": {"text": {"field": "v"}}},
          {"mark": {"type": "text", "font": "DejaVu Sans", "fontSize": 18, "color": "black", "dx": 44, "dy": 4}, "encoding": {"text": {"field": "sig"}}}
         ]},
        {"width": 128, "height": 148,
         "encoding": {
          "x": {"field": "x", "type": "quantitative", "scale": {"domain": [-0.22, 3.88], "nice": false, "zero": false}, "axis": {"values": [0,0.5,1,1.5,2,2.5,3,3.5], "labelExpr": "datum.value % 1 === 0 ? '' + datum.value : ''", "gridWidth": {"condition": {"test": "datum.value % 1 === 0", "value": 1.1}, "value": 0.55}, "tickOpacity": {"condition": {"test": "datum.value % 1 === 0", "value": 1}, "value": 0}, "labelPadding": 4, "title": null}},
          "y": {"field": "y", "type": "quantitative", "scale": {"domain": [-1.8, 5.2], "nice": false, "zero": false}, "axis": {"values": [-1,0,1,2,3,4,5], "labelExpr": "datum.value % 2 === 0 ? '' + datum.value : ''", "gridWidth": {"condition": {"test": "datum.value % 2 === 0", "value": 1.1}, "value": 0.55}, "tickOpacity": {"condition": {"test": "datum.value % 2 === 0", "value": 1}, "value": 0}, "title": "Vowel Duration (z-scored)", "titlePadding": 6}}
         },
         "layer": [
          {"data": {"name": "word"}, "transform": [{"filter": "datum.v==='iy'"}], "mark": {"type": "circle", "size": 42, "color": "black", "opacity": 0.5}},
          {"data": {"name": "wordfit"}, "transform": [{"filter": "datum.v==='iy'"}], "mark": {"type": "area", "color": "#999999", "opacity": 0.4},
           "encoding": {"y": {"field": "lo", "type": "quantitative", "scale": {"domain": [-1.8, 5.2], "nice": false, "zero": false}, "axis": {"values": [-1,0,1,2,3,4,5], "labelExpr": "datum.value % 2 === 0 ? '' + datum.value : ''", "gridWidth": {"condition": {"test": "datum.value % 2 === 0", "value": 1.1}, "value": 0.55}, "tickOpacity": {"condition": {"test": "datum.value % 2 === 0", "value": 1}, "value": 0}, "title": "Vowel Duration (z-scored)", "titlePadding": 6}}, "y2": {"field": "hi"}}},
          {"data": {"name": "wordfit"}, "transform": [{"filter": "datum.v==='iy'"}], "mark": {"type": "line", "color": "#3366FF", "strokeWidth": 2.5}}
        ]}
      ]},
      {"spacing": 0, "bounds": "flush", "vconcat": [
        {"width": 128, "height": 29, "view": {"fill": "#D9D9D9", "stroke": null}, "data": {"name": "strips"}, "transform": [{"filter": "datum.r==='word' && datum.v==='ih'"}],
         "layer": [
          {"mark": {"type": "text", "fontSize": 14, "color": "#444444", "dy": 1}, "encoding": {"text": {"field": "v"}}},
          {"mark": {"type": "text", "font": "DejaVu Sans", "fontSize": 18, "color": "black", "dx": 39, "dy": 4}, "encoding": {"text": {"field": "sig"}}}
         ]},
        {"width": 128, "height": 148,
         "encoding": {
          "x": {"field": "x", "type": "quantitative", "scale": {"domain": [-0.22, 3.88], "nice": false, "zero": false}, "axis": {"values": [0,0.5,1,1.5,2,2.5,3,3.5], "labelExpr": "datum.value % 1 === 0 ? '' + datum.value : ''", "gridWidth": {"condition": {"test": "datum.value % 1 === 0", "value": 1.1}, "value": 0.55}, "tickOpacity": {"condition": {"test": "datum.value % 1 === 0", "value": 1}, "value": 0}, "labelPadding": 4, "title": null}},
          "y": {"field": "y", "type": "quantitative", "scale": {"domain": [-1.8, 5.2], "nice": false, "zero": false}, "axis": {"values": [-1,0,1,2,3,4,5], "gridWidth": {"condition": {"test": "datum.value % 2 === 0", "value": 1.1}, "value": 0.55}, "labels": false, "ticks": false, "title": null}}
         },
         "layer": [
          {"data": {"name": "word"}, "transform": [{"filter": "datum.v==='ih'"}], "mark": {"type": "circle", "size": 42, "color": "black", "opacity": 0.5}},
          {"data": {"name": "wordfit"}, "transform": [{"filter": "datum.v==='ih'"}], "mark": {"type": "area", "color": "#999999", "opacity": 0.4},
           "encoding": {"y": {"field": "lo", "type": "quantitative", "scale": {"domain": [-1.8, 5.2], "nice": false, "zero": false}, "axis": {"values": [-1,0,1,2,3,4,5], "gridWidth": {"condition": {"test": "datum.value % 2 === 0", "value": 1.1}, "value": 0.55}, "labels": false, "ticks": false, "title": null}}, "y2": {"field": "hi"}}},
          {"data": {"name": "wordfit"}, "transform": [{"filter": "datum.v==='ih'"}], "mark": {"type": "line", "color": "#3366FF", "strokeWidth": 2.5}}
        ]}
      ]},
      {"spacing": 0, "bounds": "flush", "vconcat": [
        {"width": 128, "height": 29, "view": {"fill": "#D9D9D9", "stroke": null}, "data": {"name": "strips"}, "transform": [{"filter": "datum.r==='word' && datum.v==='eh'"}],
         "layer": [
          {"mark": {"type": "text", "fontSize": 14, "color": "#444444", "dy": 1}, "encoding": {"text": {"field": "v"}}},
          {"mark": {"type": "text", "fontSize": 16, "fontStyle": "italic", "color": "black", "dx": 43, "dy": 0}, "encoding": {"text": {"field": "sig"}}}
         ]},
        {"width": 128, "height": 148,
         "encoding": {
          "x": {"field": "x", "type": "quantitative", "scale": {"domain": [-0.22, 3.88], "nice": false, "zero": false}, "axis": {"values": [0,0.5,1,1.5,2,2.5,3,3.5], "labelExpr": "datum.value % 1 === 0 ? '' + datum.value : ''", "gridWidth": {"condition": {"test": "datum.value % 1 === 0", "value": 1.1}, "value": 0.55}, "tickOpacity": {"condition": {"test": "datum.value % 1 === 0", "value": 1}, "value": 0}, "labelPadding": 4, "title": null}},
          "y": {"field": "y", "type": "quantitative", "scale": {"domain": [-1.8, 5.2], "nice": false, "zero": false}, "axis": {"values": [-1,0,1,2,3,4,5], "gridWidth": {"condition": {"test": "datum.value % 2 === 0", "value": 1.1}, "value": 0.55}, "labels": false, "ticks": false, "title": null}}
         },
         "layer": [
          {"data": {"name": "word"}, "transform": [{"filter": "datum.v==='eh'"}], "mark": {"type": "circle", "size": 42, "color": "black", "opacity": 0.5}},
          {"data": {"name": "wordfit"}, "transform": [{"filter": "datum.v==='eh'"}], "mark": {"type": "area", "color": "#999999", "opacity": 0.4},
           "encoding": {"y": {"field": "lo", "type": "quantitative", "scale": {"domain": [-1.8, 5.2], "nice": false, "zero": false}, "axis": {"values": [-1,0,1,2,3,4,5], "gridWidth": {"condition": {"test": "datum.value % 2 === 0", "value": 1.1}, "value": 0.55}, "labels": false, "ticks": false, "title": null}}, "y2": {"field": "hi"}}},
          {"data": {"name": "wordfit"}, "transform": [{"filter": "datum.v==='eh'"}], "mark": {"type": "line", "color": "#3366FF", "strokeWidth": 2.5}}
        ]}
      ]},
      {"spacing": 0, "bounds": "flush", "vconcat": [
        {"width": 128, "height": 29, "view": {"fill": "#D9D9D9", "stroke": null}, "data": {"name": "strips"}, "transform": [{"filter": "datum.r==='word' && datum.v==='ae'"}],
         "layer": [
          {"mark": {"type": "text", "fontSize": 14, "color": "#444444", "dy": 1}, "encoding": {"text": {"field": "v"}}},
          {"mark": {"type": "text", "fontSize": 16, "fontStyle": "italic", "color": "black", "dx": 41, "dy": 0}, "encoding": {"text": {"field": "sig"}}}
         ]},
        {"width": 128, "height": 148,
         "encoding": {
          "x": {"field": "x", "type": "quantitative", "scale": {"domain": [-0.22, 3.88], "nice": false, "zero": false}, "axis": {"values": [0,0.5,1,1.5,2,2.5,3,3.5], "labelExpr": "datum.value % 1 === 0 ? '' + datum.value : ''", "gridWidth": {"condition": {"test": "datum.value % 1 === 0", "value": 1.1}, "value": 0.55}, "tickOpacity": {"condition": {"test": "datum.value % 1 === 0", "value": 1}, "value": 0}, "labelPadding": 4, "title": null}},
          "y": {"field": "y", "type": "quantitative", "scale": {"domain": [-1.8, 5.2], "nice": false, "zero": false}, "axis": {"values": [-1,0,1,2,3,4,5], "gridWidth": {"condition": {"test": "datum.value % 2 === 0", "value": 1.1}, "value": 0.55}, "labels": false, "ticks": false, "title": null}}
         },
         "layer": [
          {"data": {"name": "word"}, "transform": [{"filter": "datum.v==='ae'"}], "mark": {"type": "circle", "size": 42, "color": "black", "opacity": 0.5}},
          {"data": {"name": "wordfit"}, "transform": [{"filter": "datum.v==='ae'"}], "mark": {"type": "area", "color": "#999999", "opacity": 0.4},
           "encoding": {"y": {"field": "lo", "type": "quantitative", "scale": {"domain": [-1.8, 5.2], "nice": false, "zero": false}, "axis": {"values": [-1,0,1,2,3,4,5], "gridWidth": {"condition": {"test": "datum.value % 2 === 0", "value": 1.1}, "value": 0.55}, "labels": false, "ticks": false, "title": null}}, "y2": {"field": "hi"}}},
          {"data": {"name": "wordfit"}, "transform": [{"filter": "datum.v==='ae'"}], "mark": {"type": "line", "color": "#3366FF", "strokeWidth": 2.5}}
        ]}
      ]}
    ]
  },
  {
    "spacing": 9,
    "title": {"text": "Bigram Frequency (log-scaled)", "orient": "bottom", "anchor": "middle", "offset": 0, "dx": 29},
    "hconcat": [
      {"spacing": 0, "bounds": "flush", "vconcat": [
        {"width": 127, "height": 28, "view": {"fill": "#D9D9D9", "stroke": null}, "data": {"name": "strips"}, "transform": [{"filter": "datum.r==='bigram' && datum.v==='iy'"}],
         "layer": [
          {"mark": {"type": "text", "fontSize": 14, "color": "#444444", "dy": 1}, "encoding": {"text": {"field": "v"}}},
          {"mark": {"type": "text", "fontSize": 16, "fontStyle": "italic", "color": "black", "dx": 36, "dy": 0}, "encoding": {"text": {"field": "sig"}}}
         ]},
        {"width": 127, "height": 148,
         "encoding": {
          "x": {"field": "x", "type": "quantitative", "scale": {"domain": [-2.3, 0.42], "nice": false, "zero": false}, "axis": {"values": [-2,-1.5,-1,-0.5,0], "labelExpr": "datum.value % 1 === 0 ? '' + datum.value : ''", "gridWidth": {"condition": {"test": "datum.value % 1 === 0", "value": 1.1}, "value": 0.55}, "tickOpacity": {"condition": {"test": "datum.value % 1 === 0", "value": 1}, "value": 0}, "labelPadding": 5, "title": null}},
          "y": {"field": "y", "type": "quantitative", "scale": {"domain": [-2.36, 4.93], "nice": false, "zero": false}, "axis": {"values": [-1.25,0,1.25,2.5,3.75], "labelExpr": "datum.value % 2.5 === 0 ? format(datum.value, '.1f') : ''", "gridWidth": {"condition": {"test": "datum.value % 2.5 === 0", "value": 1.1}, "value": 0.55}, "tickOpacity": {"condition": {"test": "datum.value % 2.5 === 0", "value": 1}, "value": 0}, "tickSize": 5, "title": "Vowel Duration (z-scored)", "titlePadding": 3}}
         },
         "layer": [
          {"data": {"name": "bigram"}, "transform": [{"filter": "datum.v==='iy'"}], "mark": {"type": "circle", "size": 42, "color": "black", "opacity": 0.5}},
          {"data": {"name": "bigramfit"}, "transform": [{"filter": "datum.v==='iy'"}], "mark": {"type": "area", "color": "#999999", "opacity": 0.4},
           "encoding": {"y": {"field": "lo", "type": "quantitative", "scale": {"domain": [-2.36, 4.93], "nice": false, "zero": false}, "axis": {"values": [-1.25,0,1.25,2.5,3.75], "labelExpr": "datum.value % 2.5 === 0 ? format(datum.value, '.1f') : ''", "gridWidth": {"condition": {"test": "datum.value % 2.5 === 0", "value": 1.1}, "value": 0.55}, "tickOpacity": {"condition": {"test": "datum.value % 2.5 === 0", "value": 1}, "value": 0}, "tickSize": 5, "title": "Vowel Duration (z-scored)", "titlePadding": 3}}, "y2": {"field": "hi"}}},
          {"data": {"name": "bigramfit"}, "transform": [{"filter": "datum.v==='iy'"}], "mark": {"type": "line", "color": "#3366FF", "strokeWidth": 2.5}}
        ]}
      ]},
      {"spacing": 0, "bounds": "flush", "vconcat": [
        {"width": 127, "height": 28, "view": {"fill": "#D9D9D9", "stroke": null}, "data": {"name": "strips"}, "transform": [{"filter": "datum.r==='bigram' && datum.v==='ih'"}],
         "layer": [
          {"mark": {"type": "text", "fontSize": 14, "color": "#444444", "dy": 1}, "encoding": {"text": {"field": "v"}}},
          {"mark": {"type": "text", "fontSize": 16, "fontStyle": "italic", "color": "black", "dx": 41, "dy": 0}, "encoding": {"text": {"field": "sig"}}}
         ]},
        {"width": 127, "height": 148,
         "encoding": {
          "x": {"field": "x", "type": "quantitative", "scale": {"domain": [-2.3, 0.42], "nice": false, "zero": false}, "axis": {"values": [-2,-1.5,-1,-0.5,0], "labelExpr": "datum.value % 1 === 0 ? '' + datum.value : ''", "gridWidth": {"condition": {"test": "datum.value % 1 === 0", "value": 1.1}, "value": 0.55}, "tickOpacity": {"condition": {"test": "datum.value % 1 === 0", "value": 1}, "value": 0}, "labelPadding": 5, "title": null}},
          "y": {"field": "y", "type": "quantitative", "scale": {"domain": [-2.36, 4.93], "nice": false, "zero": false}, "axis": {"values": [-1.25,0,1.25,2.5,3.75], "gridWidth": {"condition": {"test": "datum.value % 2.5 === 0", "value": 1.1}, "value": 0.55}, "labels": false, "ticks": false, "title": null}}
         },
         "layer": [
          {"data": {"name": "bigram"}, "transform": [{"filter": "datum.v==='ih'"}], "mark": {"type": "circle", "size": 42, "color": "black", "opacity": 0.5}},
          {"data": {"name": "bigramfit"}, "transform": [{"filter": "datum.v==='ih'"}], "mark": {"type": "area", "color": "#999999", "opacity": 0.4},
           "encoding": {"y": {"field": "lo", "type": "quantitative", "scale": {"domain": [-2.36, 4.93], "nice": false, "zero": false}, "axis": {"values": [-1.25,0,1.25,2.5,3.75], "gridWidth": {"condition": {"test": "datum.value % 2.5 === 0", "value": 1.1}, "value": 0.55}, "labels": false, "ticks": false, "title": null}}, "y2": {"field": "hi"}}},
          {"data": {"name": "bigramfit"}, "transform": [{"filter": "datum.v==='ih'"}], "mark": {"type": "line", "color": "#3366FF", "strokeWidth": 2.5}}
        ]}
      ]},
      {"spacing": 0, "bounds": "flush", "vconcat": [
        {"width": 127, "height": 28, "view": {"fill": "#D9D9D9", "stroke": null}, "data": {"name": "strips"}, "transform": [{"filter": "datum.r==='bigram' && datum.v==='eh'"}],
         "layer": [
          {"mark": {"type": "text", "fontSize": 14, "color": "#444444", "dy": 1}, "encoding": {"text": {"field": "v"}}},
          {"mark": {"type": "text", "fontSize": 16, "fontStyle": "italic", "color": "black", "dx": 38, "dy": 0}, "encoding": {"text": {"field": "sig"}}}
         ]},
        {"width": 127, "height": 148,
         "encoding": {
          "x": {"field": "x", "type": "quantitative", "scale": {"domain": [-2.3, 0.42], "nice": false, "zero": false}, "axis": {"values": [-2,-1.5,-1,-0.5,0], "labelExpr": "datum.value % 1 === 0 ? '' + datum.value : ''", "gridWidth": {"condition": {"test": "datum.value % 1 === 0", "value": 1.1}, "value": 0.55}, "tickOpacity": {"condition": {"test": "datum.value % 1 === 0", "value": 1}, "value": 0}, "labelPadding": 5, "title": null}},
          "y": {"field": "y", "type": "quantitative", "scale": {"domain": [-2.36, 4.93], "nice": false, "zero": false}, "axis": {"values": [-1.25,0,1.25,2.5,3.75], "gridWidth": {"condition": {"test": "datum.value % 2.5 === 0", "value": 1.1}, "value": 0.55}, "labels": false, "ticks": false, "title": null}}
         },
         "layer": [
          {"data": {"name": "bigram"}, "transform": [{"filter": "datum.v==='eh'"}], "mark": {"type": "circle", "size": 42, "color": "black", "opacity": 0.5}},
          {"data": {"name": "bigramfit"}, "transform": [{"filter": "datum.v==='eh'"}], "mark": {"type": "area", "color": "#999999", "opacity": 0.4},
           "encoding": {"y": {"field": "lo", "type": "quantitative", "scale": {"domain": [-2.36, 4.93], "nice": false, "zero": false}, "axis": {"values": [-1.25,0,1.25,2.5,3.75], "gridWidth": {"condition": {"test": "datum.value % 2.5 === 0", "value": 1.1}, "value": 0.55}, "labels": false, "ticks": false, "title": null}}, "y2": {"field": "hi"}}},
          {"data": {"name": "bigramfit"}, "transform": [{"filter": "datum.v==='eh'"}], "mark": {"type": "line", "color": "#3366FF", "strokeWidth": 2.5}}
        ]}
      ]},
      {"spacing": 0, "bounds": "flush", "vconcat": [
        {"width": 127, "height": 28, "view": {"fill": "#D9D9D9", "stroke": null}, "data": {"name": "strips"}, "transform": [{"filter": "datum.r==='bigram' && datum.v==='ae'"}],
         "layer": [
          {"mark": {"type": "text", "fontSize": 14, "color": "#444444", "dy": 1}, "encoding": {"text": {"field": "v"}}},
          {"mark": {"type": "text", "fontSize": 16, "fontStyle": "italic", "color": "black", "dx": 40, "dy": 0}, "encoding": {"text": {"field": "sig"}}}
         ]},
        {"width": 127, "height": 148,
         "encoding": {
          "x": {"field": "x", "type": "quantitative", "scale": {"domain": [-2.3, 0.42], "nice": false, "zero": false}, "axis": {"values": [-2,-1.5,-1,-0.5,0], "labelExpr": "datum.value % 1 === 0 ? '' + datum.value : ''", "gridWidth": {"condition": {"test": "datum.value % 1 === 0", "value": 1.1}, "value": 0.55}, "tickOpacity": {"condition": {"test": "datum.value % 1 === 0", "value": 1}, "value": 0}, "labelPadding": 5, "title": null}},
          "y": {"field": "y", "type": "quantitative", "scale": {"domain": [-2.36, 4.93], "nice": false, "zero": false}, "axis": {"values": [-1.25,0,1.25,2.5,3.75], "gridWidth": {"condition": {"test": "datum.value % 2.5 === 0", "value": 1.1}, "value": 0.55}, "labels": false, "ticks": false, "title": null}}
         },
         "layer": [
          {"data": {"name": "bigram"}, "transform": [{"filter": "datum.v==='ae'"}], "mark": {"type": "circle", "size": 42, "color": "black", "opacity": 0.5}},
          {"data": {"name": "bigramfit"}, "transform": [{"filter": "datum.v==='ae'"}], "mark": {"type": "area", "color": "#999999", "opacity": 0.4},
           "encoding": {"y": {"field": "lo", "type": "quantitative", "scale": {"domain": [-2.36, 4.93], "nice": false, "zero": false}, "axis": {"values": [-1.25,0,1.25,2.5,3.75], "gridWidth": {"condition": {"test": "datum.value % 2.5 === 0", "value": 1.1}, "value": 0.55}, "labels": false, "ticks": false, "title": null}}, "y2": {"field": "hi"}}},
          {"data": {"name": "bigramfit"}, "transform": [{"filter": "datum.v==='ae'"}], "mark": {"type": "line", "color": "#3366FF", "strokeWidth": 2.5}}
        ]}
      ]}
    ]
  }
]
}
